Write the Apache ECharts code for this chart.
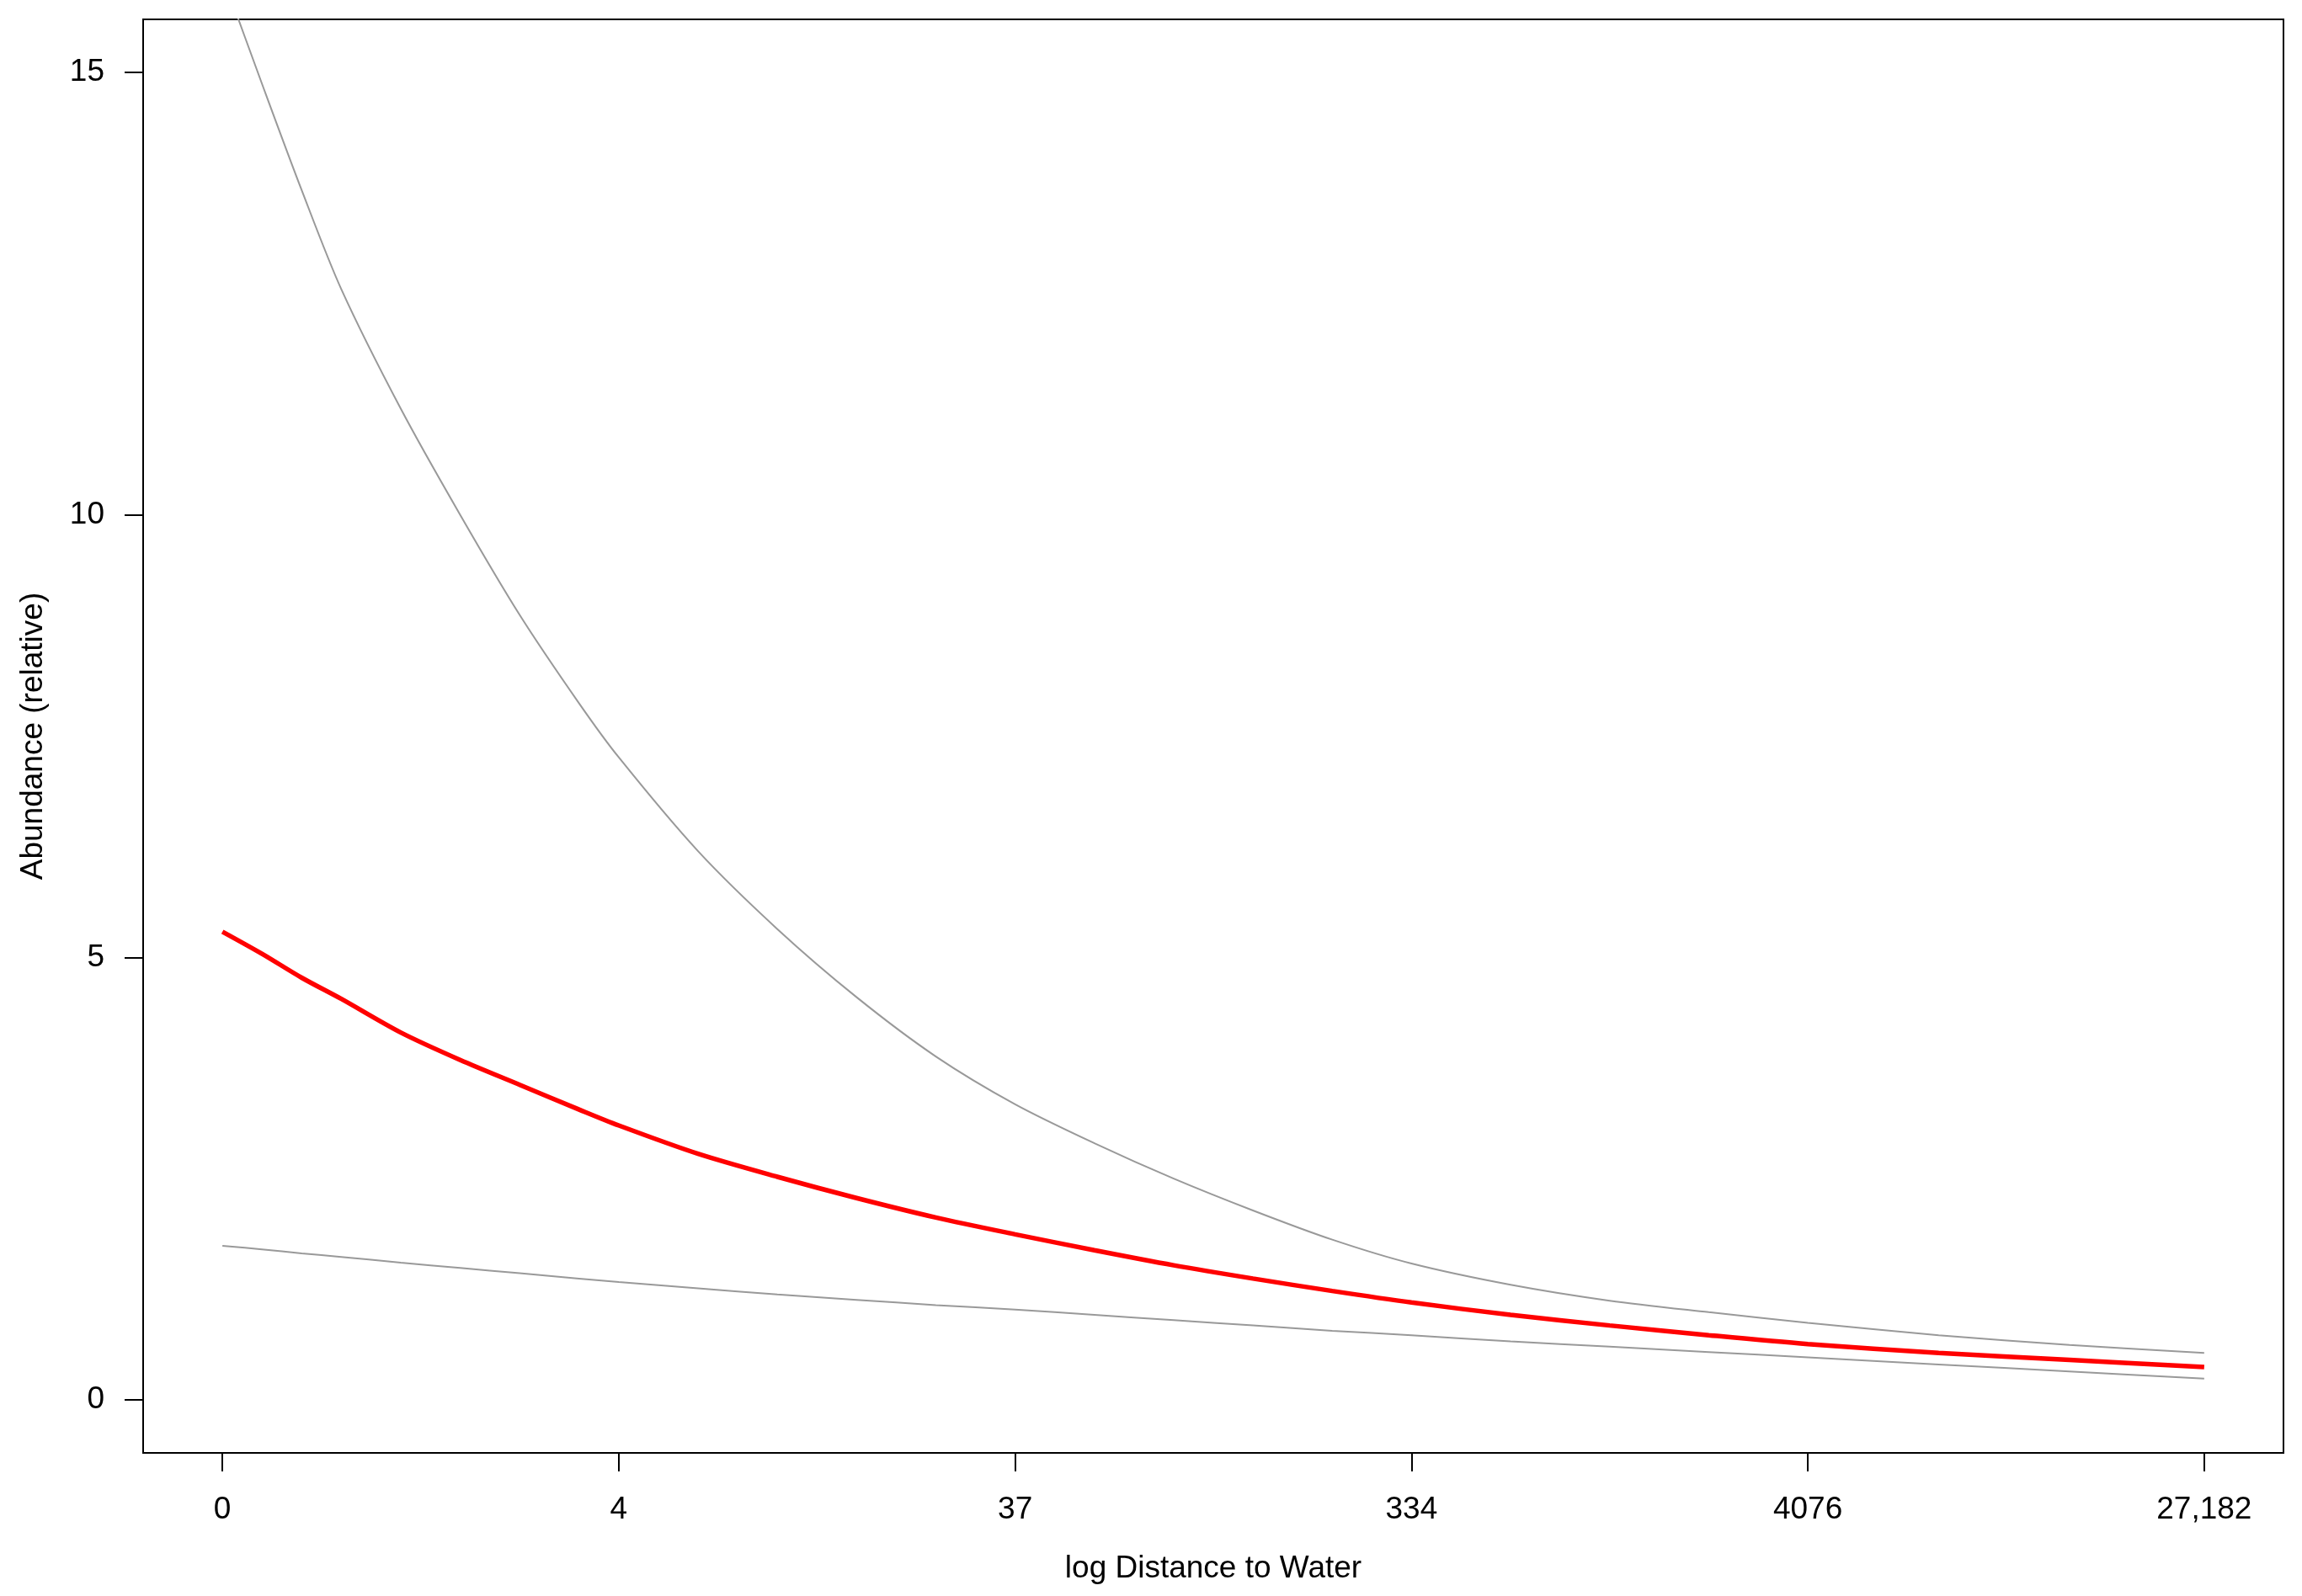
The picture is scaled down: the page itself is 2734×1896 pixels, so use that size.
<!DOCTYPE html>
<html>
<head>
<meta charset="utf-8">
<script src="https://cdn.jsdelivr.net/npm/echarts@6/dist/echarts.min.js"></script>
<style>
  html, body { margin: 0; padding: 0; background: #fff; }
  #chart { width: 2734px; height: 1896px; }
</style>
</head>
<body>
<div id="chart"></div>
<script>
// Position along the (evenly spaced) log-distance axis: 0 = first tick, 5 = last tick
const xPos = [0, 0.1, 0.2, 0.3, 0.45, 0.6, 0.75, 0.9, 1.0, 1.2, 1.4, 1.6, 1.8, 2.0,
              2.2, 2.4, 2.6, 2.8, 3.0, 3.25, 3.5, 3.75, 4.0, 4.33, 4.66, 5.0];
const upperCI = [16.1, 14.87, 13.67, 12.55, 11.2, 10.0, 8.87, 7.87, 7.26, 6.2, 5.32, 4.55, 3.88, 3.34,
                 2.90, 2.50, 2.14, 1.81, 1.54, 1.30, 1.12, 0.99, 0.87, 0.73, 0.62, 0.53];
const meanAbund = [5.29, 5.04, 4.77, 4.53, 4.15, 3.84, 3.56, 3.28, 3.10, 2.78, 2.52, 2.28, 2.06, 1.87,
                   1.69, 1.52, 1.37, 1.23, 1.10, 0.96, 0.84, 0.73, 0.63, 0.53, 0.45, 0.37];
const lowerCI = [1.74, 1.70, 1.655, 1.615, 1.55, 1.49, 1.43, 1.37, 1.33, 1.26, 1.19, 1.13, 1.07, 1.02,
                 0.96, 0.90, 0.84, 0.78, 0.73, 0.66, 0.60, 0.54, 0.48, 0.40, 0.32, 0.24];
const xTickPos = [0, 1, 2, 3, 4, 5];
const xTickLabels = ['0', '4', '37', '334', '4076', '27,182'];
const yTickVals = [0, 5, 10, 15];

const pairs = ys => xPos.map((x, i) => [x, ys[i]]);
const font = '"Liberation Sans", Arial, sans-serif';

const chart = echarts.init(document.getElementById('chart'), null, { renderer: 'canvas' });
chart.setOption({
  animation: false,
  backgroundColor: '#ffffff',
  grid: {
    left: 170, right: 22, top: 23, bottom: 170,
    show: true, borderColor: '#000', borderWidth: 2, backgroundColor: 'transparent'
  },
  xAxis: {
    type: 'value', min: -0.2, max: 5.2,
    name: 'log Distance to Water', nameLocation: 'middle', nameGap: 119,
    nameTextStyle: { fontFamily: font, fontSize: 37, color: '#000' },
    axisLine: { show: false, onZero: false },
    splitLine: { show: false },
    axisTick: { show: true, length: 22, inside: false, customValues: xTickPos,
                lineStyle: { color: '#000', width: 2 } },
    axisLabel: { customValues: xTickPos, margin: 49, fontFamily: font, fontSize: 37, color: '#000',
                 formatter: v => xTickLabels[xTickPos.indexOf(Math.round(v))] ?? '' }
  },
  yAxis: {
    type: 'value', min: -0.6, max: 15.6,
    name: 'Abundance (relative)', nameLocation: 'middle', nameGap: 112, nameRotate: 90,
    nameTextStyle: { fontFamily: font, fontSize: 37, color: '#000' },
    axisLine: { show: false, onZero: false },
    splitLine: { show: false },
    axisTick: { show: true, length: 22, customValues: yTickVals,
                lineStyle: { color: '#000', width: 2 } },
    axisLabel: { customValues: yTickVals, margin: 46, fontFamily: font, fontSize: 37, color: '#000' }
  },
  series: [
    { type: 'line', data: pairs(upperCI), showSymbol: false, smooth: 0.3,
      lineStyle: { color: '#999999', width: 2 }, clip: true },
    { type: 'line', data: pairs(lowerCI), showSymbol: false, smooth: 0.3,
      lineStyle: { color: '#999999', width: 2 }, clip: true },
    { type: 'line', data: pairs(meanAbund), showSymbol: false, smooth: 0.3,
      lineStyle: { color: '#ff0000', width: 5.5 }, clip: true }
  ]
});
</script>
</body>
</html>
